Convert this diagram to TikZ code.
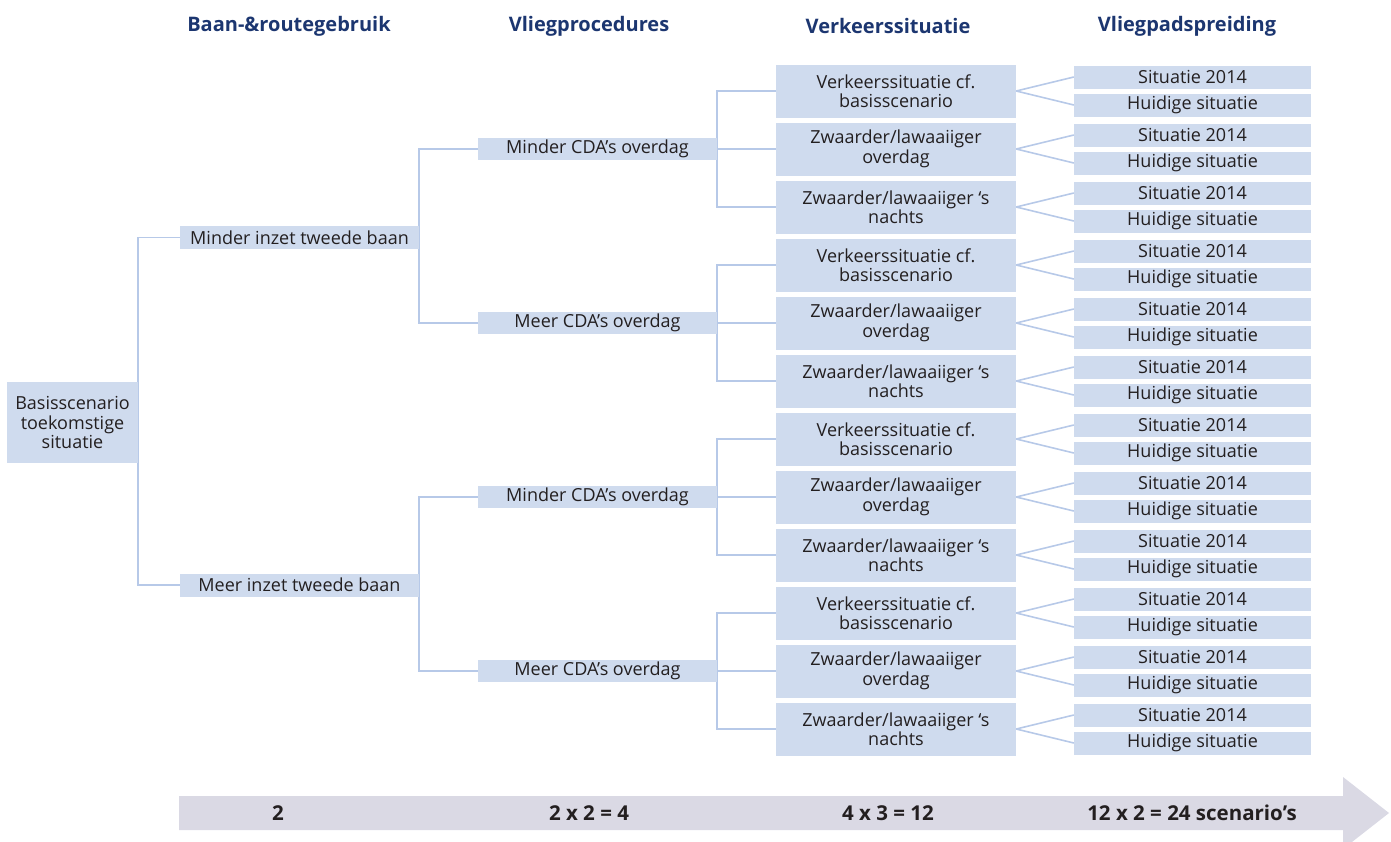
\documentclass[tikz,border=0pt]{standalone}
\usepackage{fontspec}
\setmainfont{Open Sans}
\usetikzlibrary{backgrounds}
\definecolor{boxfill}{HTML}{CFDBEE}
\definecolor{linecol}{HTML}{B7C9E8}
\definecolor{headcol}{HTML}{1C3670}
\definecolor{txtcol}{HTML}{231F20}
\definecolor{barcol}{HTML}{DAD9E4}
\tikzset{
  bx/.style={rectangle, fill=boxfill, inner sep=0pt, align=center, text=txtcol,
    font=\fontsize{18}{19.5}\selectfont},
  lvlzero/.style={bx, minimum width=131pt, minimum height=81pt},
  lvlone/.style={bx, minimum width=239pt, minimum height=23pt},
  lvltwo/.style={bx, minimum width=239pt, minimum height=22pt},
  lvlthree/.style={bx, minimum width=240pt, minimum height=53pt},
  lvlfour/.style={bx, minimum width=237pt, minimum height=23pt},
  conn/.style={draw=linecol, line width=1.6pt},
  head/.style={text=headcol, font=\fontsize{20}{22}\selectfont\bfseries},
  bartext/.style={text=txtcol, font=\fontsize{20.5}{22}\selectfont\bfseries}
}
\begin{document}
\begin{tikzpicture}[x=1pt,y=-1pt]
\clip (0,0) rectangle (1391,841);
% headers
\node[head] (h1) at (289,26) {Baan-\&routegebruik};
\node[head] (h2) at (589,26) {Vliegprocedures};
\node[head] (h3) at (888,26) {Verkeerssituatie};
\node[head] (h4) at (1187,26) {Vliegpadspreiding};
% level 0
\node[lvlzero] (L0) at (72.5,422.5) {Basisscenario\\toekomstige\\situatie};
% level 1
\node[lvlone] (L1a) at (299.5,237.5) {Minder inzet tweede baan};
\node[lvlone] (L1b) at (299.5,585) {Meer inzet tweede baan};
% level 2
\node[lvltwo] (L2a) at (597.5,149) {Minder CDA’s overdag};
\node[lvltwo] (L2b) at (597.5,323) {Meer CDA’s overdag};
\node[lvltwo] (L2c) at (597.5,497) {Minder CDA’s overdag};
\node[lvltwo] (L2d) at (597.5,671) {Meer CDA’s overdag};
% level 3 and 4
\foreach \g/\p [count=\gi from 0] in {a/L2a,b/L2b,c/L2c,d/L2d}{
  \foreach \t/\txt [count=\ti from 0] in {1/{Verkeerssituatie cf.\\basisscenario},2/{Zwaarder/lawaaiiger\\overdag},3/{Zwaarder/lawaaiiger ‘s\\nachts}}{
    \pgfmathsetmacro{\cy}{149+174*\gi+58*(\ti-1)}
    \node[lvlthree] (L3\g\t) at (896,\cy) {\txt};
    \node[lvlfour] (L4\g\t s) at (1192.5,\cy-14) {Situatie 2014};
    \node[lvlfour] (L4\g\t h) at (1192.5,\cy+14) {Huidige situatie};
  }
}
% connectors
\begin{scope}[on background layer]
\draw[conn] (L1a.west) -- (L1a.west -| L0.east) -- (L1b.west -| L0.east) -- (L1b.west);
\draw[conn] (L2a.west) -- (L2a.west -| L1a.east) -- (L2b.west -| L1a.east) -- (L2b.west);
\draw[conn] (L2c.west) -- (L2c.west -| L1b.east) -- (L2d.west -| L1b.east) -- (L2d.west);
\foreach \g/\p in {a/L2a,b/L2b,c/L2c,d/L2d}{
  \draw[conn] (L3\g1.west) -- (L3\g1.west -| \p.east) -- (L3\g3.west -| \p.east) -- (L3\g3.west);
  \draw[conn] (\p.east) -- (L3\g2.west);
  \foreach \t in {1,2,3}{
    \draw[conn] (L4\g\t s.west) -- (L3\g\t.east) -- (L4\g\t h.west);
  }
}
\end{scope}
% bottom arrow
\fill[barcol] (179,796) -- (1343,796) -- (1343,777) -- (1389,813) -- (1343,849) -- (1343,830) -- (179,830) -- cycle;
\node[bartext] (b1) at (278,813) {2};
\node[bartext] (b2) at (589,813) {2 x 2 = 4};
\node[bartext] (b3) at (888,813) {4 x 3 = 12};
\node[bartext] (b4) at (1192,813) {12 x 2 = 24 scenario’s};
\end{tikzpicture}
\end{document}
